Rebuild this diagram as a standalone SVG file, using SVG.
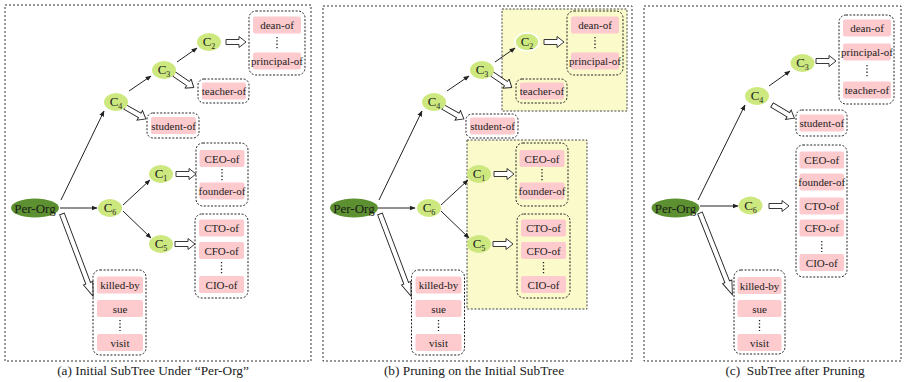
<svg xmlns="http://www.w3.org/2000/svg" width="905" height="382" viewBox="0 0 905 382" font-family="'Liberation Serif', 'Times New Roman', serif">
  <style>
    .frame { fill: none; stroke: #333; stroke-width: 1; stroke-dasharray: 2 2; }
    .box { fill: none; stroke: #222; stroke-width: 1; stroke-dasharray: 2 1.6; }
    .hl { fill: #fafacb; stroke: #333; stroke-width: 0.9; stroke-dasharray: 2 1.6; }
    .pink { fill: #fdcacd; }
    .lbl { font-family: 'Liberation Serif', 'Times New Roman', serif; font-size: 11px; fill: #222; text-anchor: middle; }
    .root { fill: #5d9030; }
    .cn { fill: #cde87f; }
    .cn2 { fill: #cde87f; stroke: #fff; stroke-width: 1.6; }
    .ct { font-family: 'Liberation Serif', 'Times New Roman', serif; font-size: 13px; fill: #222; text-anchor: middle; }
    .sub { font-size: 8px; }
    .rt { font-family: 'Liberation Serif', 'Times New Roman', serif; font-size: 13px; fill: #1a1a1a; text-anchor: middle; }
    .edge { stroke: #222; stroke-width: 1; fill: none; marker-end: url(#ah); }
    .blk { fill: #fff; stroke: #222; stroke-width: 0.9; }
    .dots { stroke: #222; stroke-width: 1.3; stroke-dasharray: 1.3 2; fill: none; }
    .cap { font-family: 'Liberation Serif', 'Times New Roman', serif; font-size: 13.3px; fill: #222; text-anchor: middle; white-space: pre; }
  </style>
  <defs>
    <marker id="ah" viewBox="0 0 10 10" refX="9" refY="5" markerWidth="6" markerHeight="6" orient="auto" markerUnits="userSpaceOnUse">
      <path d="M0,1L10,5L0,9Z" fill="#222"/>
    </marker>
    <!-- short hollow block arrows -->
    <path id="blk20" d="M0,-2.5H13V-5.5L20,0L13,5.5V2.5H0Z"/>
    <path id="blk24" d="M0,-2.5H17V-5.5L24,0L17,5.5V2.5H0Z"/>
    <path id="blk26" d="M0,-2.5H19V-5.5L26,0L19,5.5V2.5H0Z"/>
    <!-- long hollow block arrow toward the general relation list -->
    <path id="blk88" d="M0,-2.5H74V-5L88,0L74,5V2.5H0Z"/>
  </defs>

  <rect width="905" height="382" fill="#fff"/>

  <!-- ===================== panel (a) ===================== -->
  <g id="panel-a">
    <rect class="frame" x="5" y="5" width="306" height="356"/>

    <g id="a-connectors">
      <line class="edge" x1="61" y1="200" x2="104" y2="111"/>
      <line class="edge" x1="60" y1="208" x2="97" y2="208"/>
      <line class="edge" x1="123" y1="205" x2="150" y2="180"/>
      <line class="edge" x1="123" y1="211" x2="151" y2="238"/>
      <line class="edge" x1="129" y1="91" x2="151" y2="76"/>
      <line class="edge" x1="177" y1="62" x2="197" y2="48"/>
      <use href="#blk20" class="blk" transform="translate(226,42)"/>
      <use href="#blk24" class="blk" transform="translate(174,74) rotate(34.4)"/>
      <use href="#blk24" class="blk" transform="translate(125,107) rotate(29.7)"/>
      <use href="#blk20" class="blk" transform="translate(176,174)"/>
      <use href="#blk20" class="blk" transform="translate(175,244)"/>
      <use href="#blk88" class="blk" transform="translate(62,214) rotate(69.3)"/>
    </g>

    <g id="a-per-org">
      <ellipse class="root" cx="35" cy="208" rx="24" ry="9.5"/>
      <text class="rt" x="35" y="212.5">Per-Org</text>
    </g>
    <g id="a-c6"><ellipse class="cn" cx="110" cy="208" rx="12" ry="9"/><text class="ct" x="110" y="212">C<tspan class="sub" dy="3">6</tspan></text></g>
    <g id="a-c1"><ellipse class="cn" cx="161" cy="174" rx="12" ry="9"/><text class="ct" x="161" y="178">C<tspan class="sub" dy="3">1</tspan></text></g>
    <g id="a-c5"><ellipse class="cn" cx="161" cy="244" rx="12" ry="9"/><text class="ct" x="161" y="248">C<tspan class="sub" dy="3">5</tspan></text></g>
    <g id="a-c4"><ellipse class="cn" cx="116" cy="102" rx="12" ry="9"/><text class="ct" x="116" y="106">C<tspan class="sub" dy="3">4</tspan></text></g>
    <g id="a-c3"><ellipse class="cn" cx="164" cy="70" rx="12" ry="9"/><text class="ct" x="164" y="74">C<tspan class="sub" dy="3">3</tspan></text></g>
    <g id="a-c2"><ellipse class="cn" cx="209" cy="42" rx="12" ry="9"/><text class="ct" x="209" y="46">C<tspan class="sub" dy="3">2</tspan></text></g>

    <g id="a-dean-box">
      <rect class="box" x="249" y="11" width="56" height="64" rx="7"/>
      <rect class="pink" x="253" y="16.5" width="48" height="17" rx="2"/>
      <text class="lbl" x="277" y="29">dean-of</text>
      <line class="dots" x1="277" y1="37" x2="277" y2="50"/>
      <rect class="pink" x="253" y="52.5" width="48" height="17" rx="2"/>
      <text class="lbl" x="277" y="65">principal-of</text>
    </g>
    <g id="a-teacher-box">
      <rect class="box" x="198" y="79" width="51" height="24" rx="6"/>
      <rect class="pink" x="202" y="82.5" width="44" height="17" rx="2"/>
      <text class="lbl" x="224" y="95">teacher-of</text>
    </g>
    <g id="a-student-box">
      <rect class="box" x="147" y="113" width="52" height="25" rx="6"/>
      <rect class="pink" x="151" y="117" width="45" height="17" rx="2"/>
      <text class="lbl" x="173.5" y="129.5">student-of</text>
    </g>
    <g id="a-ceo-box">
      <rect class="box" x="196" y="143" width="52" height="63" rx="7"/>
      <rect class="pink" x="199.5" y="150" width="45" height="17" rx="2"/>
      <text class="lbl" x="222" y="162.5">CEO-of</text>
      <line class="dots" x1="222" y1="169" x2="222" y2="181"/>
      <rect class="pink" x="199.5" y="182.5" width="45" height="17" rx="2"/>
      <text class="lbl" x="222" y="195">founder-of</text>
    </g>
    <g id="a-cto-box">
      <rect class="box" x="195" y="214" width="53" height="84" rx="7"/>
      <rect class="pink" x="199" y="219.5" width="45" height="17" rx="2"/>
      <text class="lbl" x="221.5" y="232">CTO-of</text>
      <rect class="pink" x="199" y="242" width="45" height="17" rx="2"/>
      <text class="lbl" x="221.5" y="254.5">CFO-of</text>
      <line class="dots" x1="221.5" y1="262" x2="221.5" y2="274"/>
      <rect class="pink" x="199" y="276" width="45" height="17" rx="2"/>
      <text class="lbl" x="221.5" y="288.5">CIO-of</text>
    </g>
    <g id="a-general-box">
      <rect class="box" x="93" y="270" width="53" height="85" rx="7"/>
      <rect class="pink" x="97" y="276.5" width="46" height="17" rx="2"/>
      <text class="lbl" x="120" y="289">killed-by</text>
      <rect class="pink" x="97" y="300" width="46" height="17" rx="2"/>
      <text class="lbl" x="120" y="312.5">sue</text>
      <line class="dots" x1="120" y1="320" x2="120" y2="331"/>
      <rect class="pink" x="97" y="334" width="46" height="17" rx="2"/>
      <text class="lbl" x="120" y="346.5">visit</text>
    </g>

    <text class="cap" x="153" y="375">(a) Initial SubTree Under “Per-Org”</text>
  </g>

  <!-- ===================== panel (b) ===================== -->
  <g id="panel-b">
    <rect class="frame" x="323" y="6" width="309" height="355"/>
    <!-- pruned regions -->
    <rect class="hl" x="502" y="9" width="125" height="102"/>
    <rect class="hl" x="467" y="140" width="120" height="169"/>

    <g transform="translate(318,0)">
      <g id="b-connectors">
        <line class="edge" x1="61" y1="200" x2="104" y2="111"/>
        <line class="edge" x1="60" y1="208" x2="97" y2="208"/>
        <line class="edge" x1="123" y1="205" x2="150" y2="180"/>
        <line class="edge" x1="123" y1="211" x2="151" y2="238"/>
        <line class="edge" x1="129" y1="91" x2="151" y2="76"/>
        <line class="edge" x1="177" y1="62" x2="197" y2="48"/>
        <use href="#blk20" class="blk" transform="translate(226,42)"/>
        <use href="#blk24" class="blk" transform="translate(174,74) rotate(34.4)"/>
        <use href="#blk24" class="blk" transform="translate(125,107) rotate(29.7)"/>
        <use href="#blk20" class="blk" transform="translate(176,174)"/>
        <use href="#blk20" class="blk" transform="translate(175,244)"/>
        <use href="#blk88" class="blk" transform="translate(62,214) rotate(69.3)"/>
      </g>

      <g id="b-per-org">
        <ellipse class="root" cx="36" cy="208" rx="24" ry="9.5"/>
        <text class="rt" x="36" y="212.5">Per-Org</text>
      </g>
      <g id="b-c6"><ellipse class="cn" cx="111" cy="208" rx="12" ry="9"/><text class="ct" x="111" y="212">C<tspan class="sub" dy="3">6</tspan></text></g>
      <g id="b-c1"><ellipse class="cn" cx="161" cy="174" rx="12" ry="9"/><text class="ct" x="161" y="178">C<tspan class="sub" dy="3">1</tspan></text></g>
      <g id="b-c5"><ellipse class="cn" cx="161" cy="244" rx="12" ry="9"/><text class="ct" x="161" y="248">C<tspan class="sub" dy="3">5</tspan></text></g>
      <g id="b-c4"><ellipse class="cn" cx="116" cy="102" rx="12" ry="9"/><text class="ct" x="116" y="106">C<tspan class="sub" dy="3">4</tspan></text></g>
      <g id="b-c3"><ellipse class="cn" cx="164" cy="70" rx="12" ry="9"/><text class="ct" x="164" y="74">C<tspan class="sub" dy="3">3</tspan></text></g>
      <g id="b-c2"><ellipse class="cn2" cx="209" cy="42" rx="12" ry="9"/><text class="ct" x="209" y="46">C<tspan class="sub" dy="3">2</tspan></text></g>

      <g id="b-dean-box">
        <rect class="box" x="249" y="11" width="56" height="64" rx="7"/>
        <rect class="pink" x="253" y="16.5" width="48" height="17" rx="2"/>
        <text class="lbl" x="277" y="29">dean-of</text>
        <line class="dots" x1="277" y1="37" x2="277" y2="50"/>
        <rect class="pink" x="253" y="52.5" width="48" height="17" rx="2"/>
        <text class="lbl" x="277" y="65">principal-of</text>
      </g>
      <g id="b-teacher-box">
        <rect class="box" x="198" y="79" width="51" height="24" rx="6"/>
        <rect class="pink" x="202" y="82.5" width="44" height="17" rx="2"/>
        <text class="lbl" x="224" y="95">teacher-of</text>
      </g>
      <g id="b-student-box">
        <rect class="box" x="148" y="114" width="52" height="24" rx="6"/>
        <rect class="pink" x="152" y="117.5" width="45" height="17" rx="2"/>
        <text class="lbl" x="174.5" y="130">student-of</text>
      </g>
      <g id="b-ceo-box">
        <rect class="box" x="198" y="143" width="52" height="63" rx="7"/>
        <rect class="pink" x="201.5" y="150" width="45" height="17" rx="2"/>
        <text class="lbl" x="224" y="162.5">CEO-of</text>
        <line class="dots" x1="224" y1="169" x2="224" y2="181"/>
        <rect class="pink" x="201.5" y="182.5" width="45" height="17" rx="2"/>
        <text class="lbl" x="224" y="195">founder-of</text>
      </g>
      <g id="b-cto-box">
        <rect class="box" x="199" y="214" width="53" height="84" rx="7"/>
        <rect class="pink" x="203" y="219.5" width="45" height="17" rx="2"/>
        <text class="lbl" x="225.5" y="232">CTO-of</text>
        <rect class="pink" x="203" y="242" width="45" height="17" rx="2"/>
        <text class="lbl" x="225.5" y="254.5">CFO-of</text>
        <line class="dots" x1="225.5" y1="262" x2="225.5" y2="274"/>
        <rect class="pink" x="203" y="276" width="45" height="17" rx="2"/>
        <text class="lbl" x="225.5" y="288.5">CIO-of</text>
      </g>
      <g id="b-general-box">
        <rect class="box" x="93.5" y="270" width="53" height="85" rx="7"/>
        <rect class="pink" x="97.5" y="276.5" width="46" height="17" rx="2"/>
        <text class="lbl" x="120.5" y="289">killed-by</text>
        <rect class="pink" x="97.5" y="300" width="46" height="17" rx="2"/>
        <text class="lbl" x="120.5" y="312.5">sue</text>
        <line class="dots" x1="120.5" y1="320" x2="120.5" y2="331"/>
        <rect class="pink" x="97.5" y="334" width="46" height="17" rx="2"/>
        <text class="lbl" x="120.5" y="346.5">visit</text>
      </g>
    </g>

    <text class="cap" x="474" y="375">(b) Pruning on the Initial SubTree</text>
  </g>

  <!-- ===================== panel (c) ===================== -->
  <g id="panel-c">
    <rect class="frame" x="644" y="6" width="257" height="355"/>

    <g id="c-connectors">
      <line class="edge" x1="698" y1="200" x2="745" y2="105"/>
      <line class="edge" x1="769" y1="86" x2="790" y2="71"/>
      <line class="edge" x1="700" y1="206" x2="738" y2="206"/>
      <use href="#blk20" class="blk" transform="translate(816,61)"/>
      <use href="#blk26" class="blk" transform="translate(772,105) rotate(30.6)"/>
      <use href="#blk20" class="blk" transform="translate(769,206)"/>
      <use href="#blk88" class="blk" transform="translate(700,213) rotate(68.4)"/>
    </g>

    <g id="c-per-org">
      <ellipse class="root" cx="675.5" cy="208" rx="24" ry="9.5"/>
      <text class="rt" x="675.5" y="212.5">Per-Org</text>
    </g>
    <g id="c-c4"><ellipse class="cn" cx="757" cy="96" rx="12" ry="9"/><text class="ct" x="757" y="100">C<tspan class="sub" dy="3">4</tspan></text></g>
    <g id="c-c3"><ellipse class="cn" cx="802.5" cy="63" rx="12" ry="9"/><text class="ct" x="802.5" y="67">C<tspan class="sub" dy="3">3</tspan></text></g>
    <g id="c-c6"><ellipse class="cn" cx="750.5" cy="205.5" rx="12" ry="9"/><text class="ct" x="750.5" y="209.5">C<tspan class="sub" dy="3">6</tspan></text></g>

    <g id="c-c3-box">
      <rect class="box" x="839" y="15" width="55" height="89" rx="7"/>
      <rect class="pink" x="843" y="19.5" width="48" height="17" rx="2"/>
      <text class="lbl" x="867" y="32">dean-of</text>
      <rect class="pink" x="843" y="43.5" width="48" height="17" rx="2"/>
      <text class="lbl" x="867" y="56">principal-of</text>
      <line class="dots" x1="867" y1="65" x2="867" y2="78"/>
      <rect class="pink" x="843" y="81.5" width="48" height="17" rx="2"/>
      <text class="lbl" x="867" y="94">teacher-of</text>
    </g>
    <g id="c-student-box">
      <rect class="box" x="796" y="110" width="51" height="26" rx="6"/>
      <rect class="pink" x="799.5" y="114.5" width="44.5" height="17" rx="2"/>
      <text class="lbl" x="821.75" y="127">student-of</text>
    </g>
    <g id="c-c6-box">
      <rect class="box" x="796" y="145" width="51" height="132" rx="7"/>
      <rect class="pink" x="799.5" y="151.5" width="44.5" height="17" rx="2"/>
      <text class="lbl" x="821.75" y="164">CEO-of</text>
      <rect class="pink" x="799.5" y="173.5" width="44.5" height="17" rx="2"/>
      <text class="lbl" x="821.75" y="186">founder-of</text>
      <rect class="pink" x="799.5" y="197.5" width="44.5" height="17" rx="2"/>
      <text class="lbl" x="821.75" y="210">CTO-of</text>
      <rect class="pink" x="799.5" y="219.5" width="44.5" height="17" rx="2"/>
      <text class="lbl" x="821.75" y="232">CFO-of</text>
      <line class="dots" x1="821.75" y1="241" x2="821.75" y2="252"/>
      <rect class="pink" x="799.5" y="254" width="44.5" height="17" rx="2"/>
      <text class="lbl" x="821.75" y="266.5">CIO-of</text>
    </g>
    <g id="c-general-box">
      <rect class="box" x="734" y="270" width="51" height="84" rx="7"/>
      <rect class="pink" x="737.5" y="277" width="44" height="17" rx="2"/>
      <text class="lbl" x="759.5" y="289.5">killed-by</text>
      <rect class="pink" x="737.5" y="300" width="44" height="17" rx="2"/>
      <text class="lbl" x="759.5" y="312.5">sue</text>
      <line class="dots" x1="759.5" y1="320" x2="759.5" y2="331"/>
      <rect class="pink" x="737.5" y="334" width="44" height="17" rx="2"/>
      <text class="lbl" x="759.5" y="346.5">visit</text>
    </g>

    <text class="cap" x="795" y="375">(c)  SubTree after Pruning</text>
  </g>
</svg>
